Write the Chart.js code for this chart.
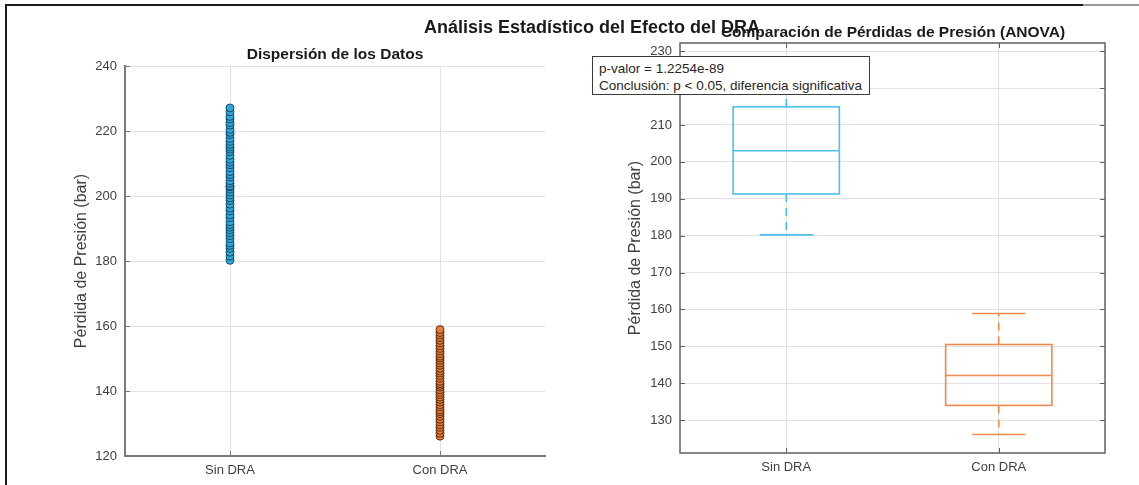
<!DOCTYPE html>
<html>
<head>
<meta charset="utf-8">
<script src="https://cdn.jsdelivr.net/npm/chart.js@4.4.1/dist/chart.umd.min.js"></script>
<style>
  body { margin: 0; background: #fff; font-family: "Liberation Sans", Arial, sans-serif; }
  #page { position: relative; width: 1139px; height: 485px; overflow: hidden; background: #fff; }
  .frame-top { position: absolute; left: 5px; top: 4px; width: 1078px; height: 2px; background: #1a1a1a; }
  .frame-top2 { position: absolute; left: 1083px; top: 4px; width: 56px; height: 2px; background: #9a9a9a; }
  .frame-left { position: absolute; left: 5px; top: 4px; width: 2px; height: 481px; background: #1a1a1a; }
  canvas { position: absolute; top: 0; }
  .title { position: absolute; white-space: nowrap; color: #1a1a1a; font-weight: bold; transform: translate(-50%, -50%); }
  #note { position: absolute; left: 592px; top: 56px; width: 278px; height: 39px; border: 1.5px solid #3a3a3a;
          background: #fff; font-size: 13.5px; color: #262626; line-height: 17px; padding: 3px 0 0 6px; box-sizing: border-box; }
</style>
</head>
<body>
<div id="page">
  <canvas id="scatterChart" width="580" height="485" style="left:0"></canvas>
  <canvas id="boxChart" width="559" height="485" style="left:580px"></canvas>
  <div class="frame-top"></div>
  <div class="frame-top2"></div>
  <div class="frame-left"></div>
  <div class="title" style="left:592px; top:27px; font-size:18px;">Análisis Estadístico del Efecto del DRA</div>
  <div class="title" style="left:335px; top:54px; font-size:15.5px;">Dispersión de los Datos</div>
  <div class="title" style="left:893px; top:32px; font-size:15.5px;">Comparación de Pérdidas de Presión (ANOVA)</div>
  <div id="note"></div>
</div>
<script>
const categories = ["Sin DRA", "Con DRA"];
const xPositions = [1, 2];

// raw measurements, bar
const sinDRA = [180.2, 181.5, 182.7, 183.9, 184.8, 185.6, 186.9, 187.8, 188.7, 189.6,
  190.4, 191.2, 192.1, 193.3, 194.2, 195.4, 196.3, 197.5, 198.6, 199.4,
  200.3, 201.2, 202.1, 202.8, 203.1, 203.9, 204.7, 205.8, 206.6, 207.5,
  208.7, 209.6, 210.4, 211.3, 212.5, 213.6, 214.4, 215.1, 215.9, 216.8,
  217.7, 218.9, 219.6, 220.5, 221.8, 222.6, 223.7, 224.5, 225.9, 227.1];
const conDRA = [126.1, 127.0, 127.9, 128.8, 129.6, 130.5, 131.3, 132.2, 133.0, 133.6,
  134.2, 135.1, 135.8, 136.6, 137.4, 138.1, 138.9, 139.6, 140.4, 141.2,
  141.8, 142.3, 143.0, 143.9, 144.7, 145.5, 146.2, 147.0, 147.9, 148.6,
  149.4, 150.1, 150.7, 151.5, 152.3, 153.1, 153.9, 154.8, 155.6, 156.4,
  157.2, 158.0, 158.9];

// boxplot summary (per category)
const boxMin = [180.2, 126.1];
const boxQ1 = [191.3, 134.0];
const boxMedian = [203.0, 142.1];
const boxQ3 = [214.9, 150.5];
const boxMax = [227.1, 158.9];

const scatterTicks = [120, 140, 160, 180, 200, 220, 240];
const boxTicks = [130, 140, 150, 160, 170, 180, 190, 200, 210, 220, 230];

const pValue = "1.2254e-89";
const noteLines = ["p-valor = " + pValue, "Conclusión: p < 0.05, diferencia significativa"];

const markerFill = ["#27aae1", "#ec7a30"];
const markerEdge = ["#1b3140", "#3a1e0c"];
const boxColors = ["#4dbeee", "#f08a4b"];

document.getElementById("note").innerHTML = noteLines.join("<br>");

const FONT = "'Liberation Sans', Arial, sans-serif";
const tickFont = { family: FONT, size: 13 };
const labelFont = { family: FONT, size: 16 };

// MATLAB-like inward tick marks
const innerTicks = {
  id: "innerTicks",
  afterDatasetsDraw(chart, args, opts) {
    const { ctx, chartArea: a, scales: { x, y } } = chart;
    const len = 5;
    ctx.save();
    ctx.strokeStyle = opts.color;
    ctx.lineWidth = 1;
    y.ticks.forEach(t => {
      const py = Math.round(y.getPixelForValue(t.value)) + 0.5;
      ctx.beginPath(); ctx.moveTo(a.left, py); ctx.lineTo(a.left + len, py); ctx.stroke();
      if (opts.box) { ctx.beginPath(); ctx.moveTo(a.right, py); ctx.lineTo(a.right - len, py); ctx.stroke(); }
    });
    x.ticks.forEach(t => {
      const px = Math.round(x.getPixelForValue(t.value)) + 0.5;
      ctx.beginPath(); ctx.moveTo(px, a.bottom); ctx.lineTo(px, a.bottom - len); ctx.stroke();
      if (opts.box) { ctx.beginPath(); ctx.moveTo(px, a.top); ctx.lineTo(px, a.top + len); ctx.stroke(); }
    });
    if (opts.box) {
      ctx.lineWidth = 1.5;
      ctx.strokeRect(a.left, a.top, a.right - a.left, a.bottom - a.top);
    }
    ctx.restore();
  }
};

// box + whiskers drawn through the chart scales
const boxPlot = {
  id: "boxPlot",
  afterDatasetsDraw(chart) {
    const { ctx, scales: { x, y } } = chart;
    ctx.save();
    ctx.lineWidth = 1.6;
    xPositions.forEach((pos, i) => {
      const xl = x.getPixelForValue(pos - 0.25), xr = x.getPixelForValue(pos + 0.25);
      const cl = x.getPixelForValue(pos - 0.125), cr = x.getPixelForValue(pos + 0.125);
      const xc = x.getPixelForValue(pos);
      const yq1 = y.getPixelForValue(boxQ1[i]), yq3 = y.getPixelForValue(boxQ3[i]);
      const ymed = y.getPixelForValue(boxMedian[i]);
      const ylo = y.getPixelForValue(boxMin[i]), yhi = y.getPixelForValue(boxMax[i]);
      ctx.strokeStyle = boxColors[i];
      ctx.setLineDash([]);
      ctx.strokeRect(xl, yq3, xr - xl, yq1 - yq3);
      ctx.beginPath(); ctx.moveTo(xl, ymed); ctx.lineTo(xr, ymed); ctx.stroke();
      ctx.beginPath(); ctx.moveTo(cl, ylo); ctx.lineTo(cr, ylo); ctx.moveTo(cl, yhi); ctx.lineTo(cr, yhi); ctx.stroke();
      ctx.setLineDash([8, 6]);
      ctx.beginPath(); ctx.moveTo(xc, yq1); ctx.lineTo(xc, ylo); ctx.moveTo(xc, yq3); ctx.lineTo(xc, yhi); ctx.stroke();
    });
    ctx.restore();
  }
};

function catAxis(height, borderShown) {
  return {
    type: "linear", min: 0.5, max: 2.5,
    afterBuildTicks: s => { s.ticks = xPositions.map(v => ({ value: v })); },
    afterFit: s => { s.height = height; },
    ticks: { font: tickFont, color: "#404040", padding: 7, callback: v => categories[xPositions.indexOf(v)] },
    grid: { color: "#e2e2e2", drawTicks: false },
    border: { display: borderShown, color: "#7a7a7a", width: 2 }
  };
}

function valueAxis(min, max, tickList, width, borderShown) {
  return {
    min, max,
    afterBuildTicks: s => { s.ticks = tickList.map(v => ({ value: v })); },
    afterFit: s => { s.width = width; },
    ticks: { font: tickFont, color: "#404040", padding: 8 },
    grid: { color: "#e2e2e2", drawTicks: false },
    border: { display: borderShown, color: "#7a7a7a", width: 2 },
    title: { display: true, text: "Pérdida de Presión (bar)", font: labelFont, color: "#404040" }
  };
}

new Chart(document.getElementById("scatterChart"), {
  type: "scatter",
  data: {
    datasets: [sinDRA, conDRA].map((vals, i) => ({
      label: categories[i],
      data: vals.map(v => ({ x: xPositions[i], y: v })),
      pointRadius: 4,
      pointBackgroundColor: markerFill[i],
      pointBorderColor: markerEdge[i],
      pointBorderWidth: 0.8
    }))
  },
  options: {
    responsive: false,
    animation: false,
    layout: { padding: { top: 66, right: 35, left: 68, bottom: 0 } },
    plugins: { legend: { display: false }, tooltip: { enabled: false }, innerTicks: { color: "#7a7a7a", box: false } },
    scales: {
      x: catAxis(29, true),
      y: valueAxis(120, 240, scatterTicks, 57, true)
    }
  },
  plugins: [innerTicks]
});

new Chart(document.getElementById("boxChart"), {
  type: "scatter",
  data: { datasets: [{ data: [] }] },
  options: {
    responsive: false,
    animation: false,
    layout: { padding: { top: 43, right: 34, left: 42, bottom: 0 } },
    plugins: { legend: { display: false }, tooltip: { enabled: false }, innerTicks: { color: "#606060", box: true } },
    scales: {
      x: catAxis(32, false),
      y: valueAxis(121.1, 232.2, boxTicks, 58, false)
    }
  },
  plugins: [boxPlot, innerTicks]
});
</script>
</body>
</html>
